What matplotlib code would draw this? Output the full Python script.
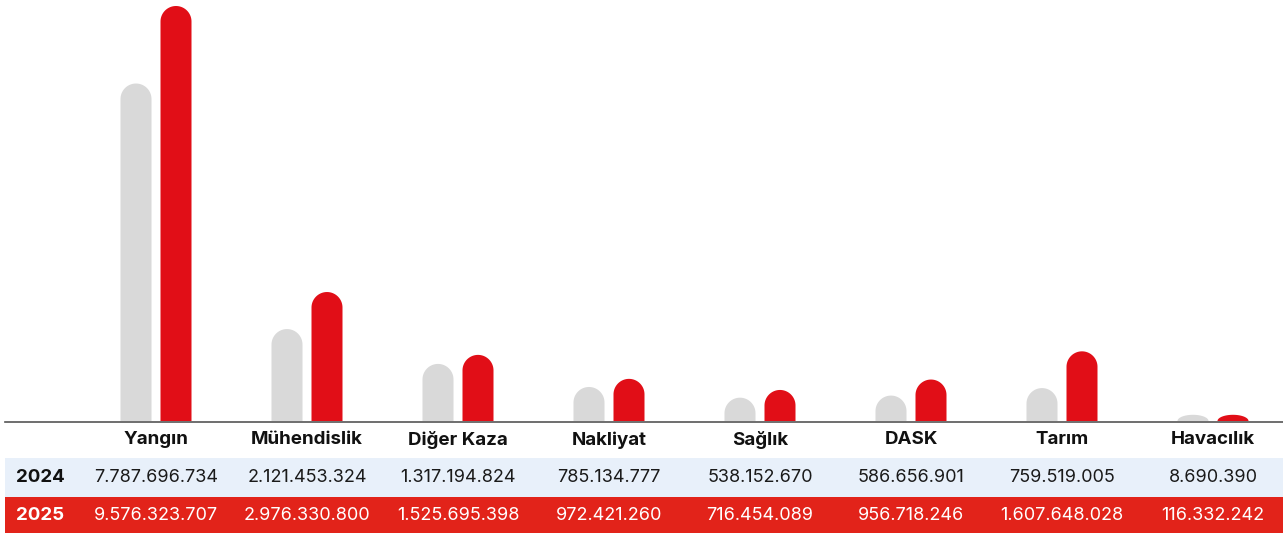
import numpy as np
import matplotlib.pyplot as plt
from matplotlib.patches import PathPatch
from matplotlib.path import Path

# data
categories = ['Yangın', 'Mühendislik', 'Diğer Kaza', 'Nakliyat', 'Sağlık', 'DASK', 'Tarım', 'Havacılık']
v2024 = [7787696734, 2121453324, 1317194824, 785134777, 538152670, 586656901, 759519005, 8690390]
v2025 = [9576323707, 2976330800, 1525695398, 972421260, 716454089, 956718246, 1607648028, 116332242]
years = ['2024', '2025']

GREY = '#D9D9D9'
RED = '#E10E17'
BAND_RED = '#E2231A'
BAND_BLUE = '#E8F0FA'

plt.rcParams['font.family'] = ['Inter', 'DejaVu Sans']

W, H, DPI = 1283, 533, 100
fig = plt.figure(figsize=(W / DPI, H / DPI), dpi=DPI)

base_px = 421  # baseline from top
ax = fig.add_axes([0, (H - base_px) / H, 1, base_px / H])
x0 = 156 / 151.0
xlim = (-x0, (W - 156) / 151.0)
ymax = max(v2025) * base_px / 415.0
ax.set_xlim(*xlim)
ax.set_ylim(0, ymax)
ax.axis('off')

px_per_y = base_px / ymax
bw = 31 / 151.0
off = 20 / 151.0
r_px = 15.5
ry = r_px / px_per_y


def pill(x, h, color):
    # bar with rounded top, one path so no seam
    hh = max(h, 0.4 * ry)
    cy = min(ry, hh)
    t = np.linspace(np.pi, 0, 40)
    xs = x + bw / 2 * np.cos(t)
    ys = hh - cy + cy * np.sin(t)
    verts = [(x - bw / 2, 0)] + list(zip(xs, ys)) + [(x + bw / 2, 0), (x - bw / 2, 0)]
    codes = [Path.MOVETO] + [Path.LINETO] * (len(verts) - 2) + [Path.CLOSEPOLY]
    ax.add_patch(PathPatch(Path(verts, codes), facecolor=color, lw=0))


for i in range(len(categories)):
    pill(i - off, v2024[i], GREY)
    pill(i + off, v2025[i], RED)

# table area
axt = fig.add_axes([0, 0, 1, (H - base_px) / H])
axt.set_xlim(*xlim)
axt.set_ylim(H - base_px, 0)
axt.axis('off')

left = 5 / W
axt.axhline(0.5, xmin=left, xmax=1, color='#555555', lw=1.2)
axt.axhspan(458 - base_px, 497 - base_px, xmin=left, xmax=1, color=BAND_BLUE, lw=0)
axt.axhspan(497 - base_px, H - base_px, xmin=left, xmax=1, color=BAND_RED, lw=0)

fs = 13
hfs = 13.5
for i, c in enumerate(categories):
    axt.text(i, 440 - base_px, c, ha='center', va='center', fontsize=hfs, fontweight='bold', color='#111111')
    axt.text(i, 478 - base_px, f'{v2024[i]:,}'.replace(',', '.'), ha='center', va='center',
             fontsize=fs, color='#1a1a1a')
    axt.text(i, 516 - base_px, f'{v2025[i]:,}'.replace(',', '.'), ha='center', va='center',
             fontsize=fs, color='white')

lab_x = xlim[0] + 40 / 151.0
axt.text(lab_x, 478 - base_px, years[0], ha='center', va='center', fontsize=hfs, fontweight='bold', color='#111111')
axt.text(lab_x, 516 - base_px, years[1], ha='center', va='center', fontsize=hfs, fontweight='bold', color='white')

fig.savefig('out.png', dpi=DPI)
